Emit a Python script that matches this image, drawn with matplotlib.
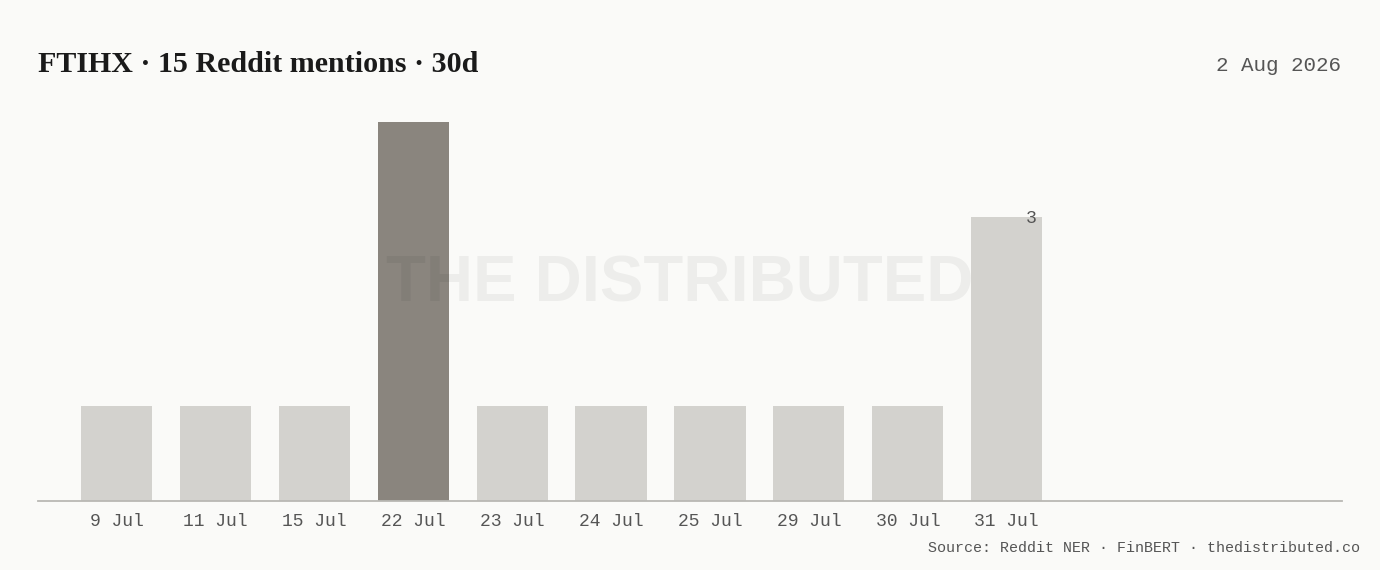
import matplotlib.pyplot as plt

# data
days = ["9 Jul", "11 Jul", "15 Jul", "22 Jul", "23 Jul", "24 Jul",
        "25 Jul", "29 Jul", "30 Jul", "31 Jul"]
mentions = [1, 1, 1, 4, 1, 1, 1, 1, 1, 3]
peak_day = "22 Jul"
labelled_day = "31 Jul"

title = "FTIHX \u00b7 15 Reddit mentions \u00b7 30d"
date_text = "2 Aug 2026"
source_text = "Source: Reddit NER \u00b7 FinBERT \u00b7 thedistributed.co"

bg = "#fafaf8"
light = "#d3d2ce"
dark = "#8a857e"
mono = "Liberation Mono"

fig = plt.figure(figsize=(13.8, 5.7), dpi=100, facecolor=bg)
ax = fig.add_axes([38 / 1380, 69 / 570, 1304 / 1380, 379 / 570])
ax.set_facecolor(bg)

x = list(range(len(days)))
colors = [dark if d == peak_day else light for d in days]
ax.bar(x, mentions, width=0.72, color=colors, zorder=2)

# value label on the last bar
i = days.index(labelled_day)
ax.text(i + 0.36 - 0.06, mentions[i] - 0.02, str(mentions[i]), ha="right", va="center",
        fontsize=13, family=mono, color="#555555", zorder=4)

ax.set_xlim(-0.794, 12.39)
ax.set_ylim(0, 4)
ax.set_xticks(x)
ax.set_xticklabels(days, family=mono, fontsize=13, color="#555555")
ax.tick_params(axis="x", length=0, pad=9)
ax.set_yticks([])
for s in ["top", "right", "left"]:
    ax.spines[s].set_visible(False)
ax.spines["bottom"].set_color("#b9b8b4")
ax.spines["bottom"].set_linewidth(1.3)

# watermark
fig.text(680 / 1380, 1 - 285 / 570, "THE DISTRIBUTED", ha="center", va="center",
         fontsize=47, family="Liberation Sans", fontweight="bold",
         color="black", alpha=0.05, zorder=5)

fig.text(38 / 1380, 1 - 72 / 570, title, ha="left", va="baseline",
         fontsize=21.6, family="Liberation Serif", fontweight="bold", color="#1a1a1a")
fig.text(1341 / 1380, 1 - 71 / 570, date_text, ha="right", va="baseline",
         fontsize=15, family=mono, color="#555555")
fig.text(1360 / 1380, 1 - 552 / 570, source_text, ha="right", va="baseline",
         fontsize=10.8, family=mono, color="#555555")

fig.savefig("out.png", dpi=100, facecolor=bg)
